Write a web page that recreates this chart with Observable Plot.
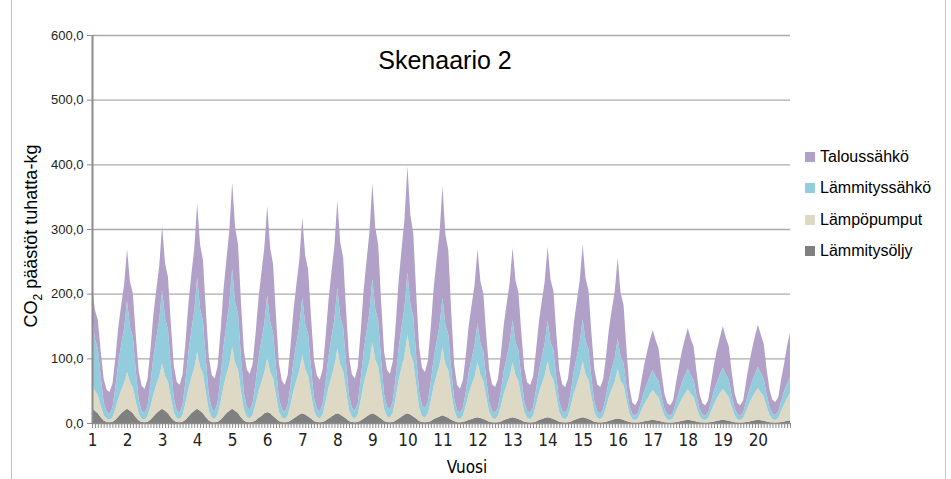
<!DOCTYPE html>
<html>
<head>
<meta charset="utf-8">
<script src="https://cdn.jsdelivr.net/npm/d3@7"></script>
<script src="https://cdn.jsdelivr.net/npm/@observablehq/plot@0.6"></script>
<style>
  body { margin: 0; background: #fff; }
  #wrap { position: relative; width: 951px; height: 479px; overflow: hidden; font-family: "Liberation Sans", Arial, sans-serif; color: #000; }
  #wrap svg { position: absolute; left: 0; top: 0; }
  .frame { position: absolute; top: 0; bottom: 0; width: 1px; background: #c4c4c4; }
  #title { position: absolute; left: 445px; top: 46px; transform: translateX(-50%); font-size: 25px; white-space: nowrap; }
  #ylab { position: absolute; left: 33px; top: 236px; transform: translate(-50%, -50%) rotate(-90deg); font-size: 18px; white-space: nowrap; }
  #ylab sub { font-size: 12px; }
  #xlab { position: absolute; left: 467px; top: 457px; transform: translateX(-50%); font-size: 17px; font-family: "Liberation Sans Narrow", "DejaVu Sans Condensed", sans-serif; white-space: nowrap; }
  #legend { position: absolute; left: 805px; top: 141px; }
  .item { display: flex; align-items: center; height: 31.5px; font-size: 16px; }
  .sw { width: 10px; height: 10px; margin-right: 5px; }
</style>
</head>
<body>
<div id="wrap">
  <div class="frame" style="left:11px"></div>
  <div class="frame" style="left:945px"></div>
</div>
<script>
// Series order in the legend (top to bottom)
const seriesNames = ["Taloussähkö", "Lämmityssähkö", "Lämpöpumput", "Lämmitysöljy"];
const seriesColors = ["#b1a0c7", "#93cddd", "#ddd9c4", "#808080"];
const stackOrder = ["Lämmitysöljy", "Lämpöpumput", "Lämmityssähkö", "Taloussähkö"];
const yearLabels = ["1","2","3","4","5","6","7","8","9","10","11","12","13","14","15","16","17","18","19","20"];
const yTicks = [0, 100, 200, 300, 400, 500, 600];

// Monthly values (Jan..Dec for each of 20 years), tuhatta-kg CO2
const lammitysoljy = [
  22,19,15,9,4,1.6,1,2,5,10,15,19,
  22,19,15,9,4,1.6,1,2,5,10,15,19,
  22,19,15,9,4,1.6,1,2,5,10,15,19,
  22,19,15,9,4,1.6,1,2,5,10,15,19,
  22,19,15,9,4,1.6,1,1.8,4,8,11,15,
  17,15,11,7,3,1.5,1,1.7,4,7,10,13,
  15,13,10,7,3,1.4,1,1.7,4,7,10,13,
  15,13,10,7,3,1.4,1,1.7,4,7,10,13,
  15,13,10,7,3,1.4,1,1.7,4,7,10,13,
  15,13,10,7,3,1.4,1,1.6,3,6,8,10,
  12,10,8,5,3,1.3,1,1.4,3,5,6,8,
  9,7.8,6.1,4.1,2,1,0.8,1.2,2.4,4.5,6.1,7.8,
  9,7.8,6.1,4.1,2,1,0.8,1.2,2.4,4.5,6.1,7.8,
  9,7.8,6.1,4.1,2,1,0.8,1.2,2.4,4.5,6.1,7.8,
  9,7.8,6.1,4.1,2,1,0.8,1.1,2,3.6,4.8,6.1,
  7,6,4.8,3.2,1.6,0.8,0.6,0.8,1.5,2.6,3.5,4.3,
  5,4.3,3.4,2.3,1.2,0.6,0.5,0.7,1.4,2.5,3.4,4.3,
  5,4.3,3.4,2.3,1.2,0.6,0.5,0.7,1.4,2.5,3.4,4.3,
  5,4.3,3.4,2.3,1.2,0.6,0.5,0.7,1.4,2.5,3.4,4.3,
  5,4.3,3.4,2.3,1.2,0.6,0.5,0.7,1.4,2.5,3.4,4.3
];
const lampopumput = [
  39,31,28,17,8,5,4,7,17,28,36,43,
  57,44,40,24,10,5,4,8,20,34,44,53,
  70,54,49,30,13,6,5,10,25,42,55,66,
  88,68,61,37,15,7,5,11,27,46,60,72,
  96,74,67,40,17,8,6,11,25,41,52,63,
  83,64,58,35,14,7,5,10,25,43,56,68,
  90,70,63,38,16,8,6,12,29,48,62,76,
  100,77,70,42,17,8,6,12,31,53,68,83,
  110,85,77,46,19,9,7,14,35,59,76,92,
  122,94,85,51,21,9,7,13,31,51,66,80,
  105,81,73,43,17,7,5,10,24,41,53,64,
  85,66,59,35,15,7,5,10,24,41,53,64,
  85,66,59,35,15,7,5,10,25,42,54,66,
  87,67,61,36,15,7,5,10,25,42,54,66,
  87,67,61,36,15,7,5,9,22,37,48,58,
  77,59,54,32,13,5,4,7,17,26,33,40,
  46,40,36,22,10,5,4,7,17,26,34,41,
  47,41,37,22,10,5,4,7,17,27,35,42,
  48,42,37,23,11,5,4,7,18,27,36,43,
  49,43,38,23,11,5,4,7,18,27,35,42
];
const lammityssahko = [
  102,80,72,44,20,11,9,15,33,55,70,84,
  110,86,78,48,22,12,10,16,35,57,72,87,
  114,89,81,50,22,12,10,16,35,57,73,88,
  115,90,82,51,24,14,12,19,38,61,77,93,
  121,95,86,54,26,15,13,18,33,51,64,76,
  98,77,70,44,21,13,11,16,30,46,58,69,
  89,70,64,41,20,13,11,16,31,48,61,72,
  94,74,68,43,22,14,12,17,33,51,64,76,
  98,78,71,45,23,15,13,18,33,50,63,74,
  96,77,70,46,25,17,15,19,30,43,52,61,
  77,61,56,35,18,11,10,13,22,33,41,48,
  61,49,45,29,16,11,10,13,23,35,43,51,
  65,52,47,31,17,11,10,13,23,34,42,49,
  63,50,46,30,16,11,10,13,23,35,43,51,
  65,52,47,30,16,10,9,11,18,26,32,37,
  47,37,34,22,12,8,7,9,14,20,24,28,
  31,28,25,17,11,8,7,9,15,20,25,29,
  32,29,26,18,11,8,7,9,15,21,25,29,
  33,29,27,18,11,8,7,9,15,21,25,29,
  33,30,27,19,12,9,8,10,15,20,23,25
];
const taloussahko = [
  49,45,44,40,36,34,34,37,45,55,62,68,
  80,70,67,54,43,39,38,42,53,66,75,83,
  99,86,81,64,50,44,43,47,60,75,86,96,
  114,99,94,75,59,52,51,56,71,88,100,112,
  133,115,108,85,65,58,56,61,76,93,105,117,
  138,115,107,79,54,44,42,47,62,79,91,103,
  124,106,100,78,58,51,49,54,70,88,101,113,
  135,115,108,82,60,52,50,56,74,94,109,123,
  148,126,118,90,66,57,55,62,81,104,120,136,
  164,138,129,97,69,58,56,63,84,109,126,143,
  173,140,130,89,53,40,37,42,56,72,83,94,
  114,96,90,68,49,41,40,44,57,72,83,93,
  112,95,90,69,51,44,43,47,60,75,86,96,
  114,97,91,67,49,41,40,45,58,74,85,96,
  115,97,91,69,50,42,41,46,61,79,91,103,
  125,99,90,57,29,18,16,19,30,40,48,56,
  62,56,51,36,23,17,16,19,30,40,49,56,
  63,56,52,36,23,17,16,19,30,41,50,57,
  64,57,52,37,23,17,16,19,31,42,50,58,
  65,59,54,39,27,21,20,23,34,43,58,68
];

const seriesValues = {
  "Lämmitysöljy": lammitysoljy,
  "Lämpöpumput": lampopumput,
  "Lämmityssähkö": lammityssahko,
  "Taloussähkö": taloussahko
};
const rows = [];
for (const s of stackOrder) {
  seriesValues[s].forEach((v, i) => rows.push({i, s, v}));
}
const monthIdx = taloussahko.map((_, i) => i);
const yearStarts = yearLabels.map((_, k) => k * 12);
const fmt = d => d.toFixed(1).replace(".", ",");

const chart = Plot.plot({
  width: 951,
  height: 479,
  marginLeft: 92,
  marginRight: 161,
  marginTop: 35,
  marginBottom: 56,
  style: {fontFamily: "'Liberation Sans', Arial, sans-serif", fontSize: "13px", color: "#222", background: "transparent", overflow: "visible"},
  x: {domain: [0, monthIdx.length - 1], axis: null},
  y: {domain: [0, 600], axis: null},
  color: {domain: seriesNames, range: seriesColors},
  marks: [
    Plot.gridY(yTicks.filter(d => d > 0), {stroke: "#ababab", strokeOpacity: 1, strokeWidth: 1.3}),
    Plot.areaY(rows, {x: "i", y: "v", fill: "s", order: stackOrder}),
    Plot.ruleY([0], {stroke: "#8c8c8c", strokeWidth: 1.5}),
    Plot.ruleX([0], {stroke: "#8c8c8c", strokeWidth: 2}),
    Plot.axisY(yTicks, {tickSize: 5, tickPadding: 4, tickFormat: fmt, stroke: "#8c8c8c", label: null, fontSize: 13}),
    Plot.axisX(monthIdx, {tickSize: 5, tickFormat: () => "", stroke: "#8c8c8c", label: null}),
    Plot.axisX(yearStarts, {tickSize: 0, tickPadding: 10, tickFormat: d => yearLabels[d / 12], label: null, fontSize: 17, fontFamily: "'Liberation Sans Narrow', 'DejaVu Sans Condensed', sans-serif"})
  ]
});

const wrap = document.getElementById("wrap");
wrap.appendChild(chart);

const title = document.createElement("div");
title.id = "title";
title.textContent = "Skenaario 2";
wrap.appendChild(title);

const ylab = document.createElement("div");
ylab.id = "ylab";
ylab.innerHTML = "CO<sub>2</sub> päästöt tuhatta-kg";
wrap.appendChild(ylab);

const xlab = document.createElement("div");
xlab.id = "xlab";
xlab.textContent = "Vuosi";
wrap.appendChild(xlab);

const legend = document.createElement("div");
legend.id = "legend";
seriesNames.forEach((name, k) => {
  const item = document.createElement("div");
  item.className = "item";
  const sw = document.createElement("span");
  sw.className = "sw";
  sw.style.background = seriesColors[k];
  const label = document.createElement("span");
  label.textContent = name;
  item.appendChild(sw);
  item.appendChild(label);
  legend.appendChild(item);
});
wrap.appendChild(legend);
</script>
</body>
</html>
